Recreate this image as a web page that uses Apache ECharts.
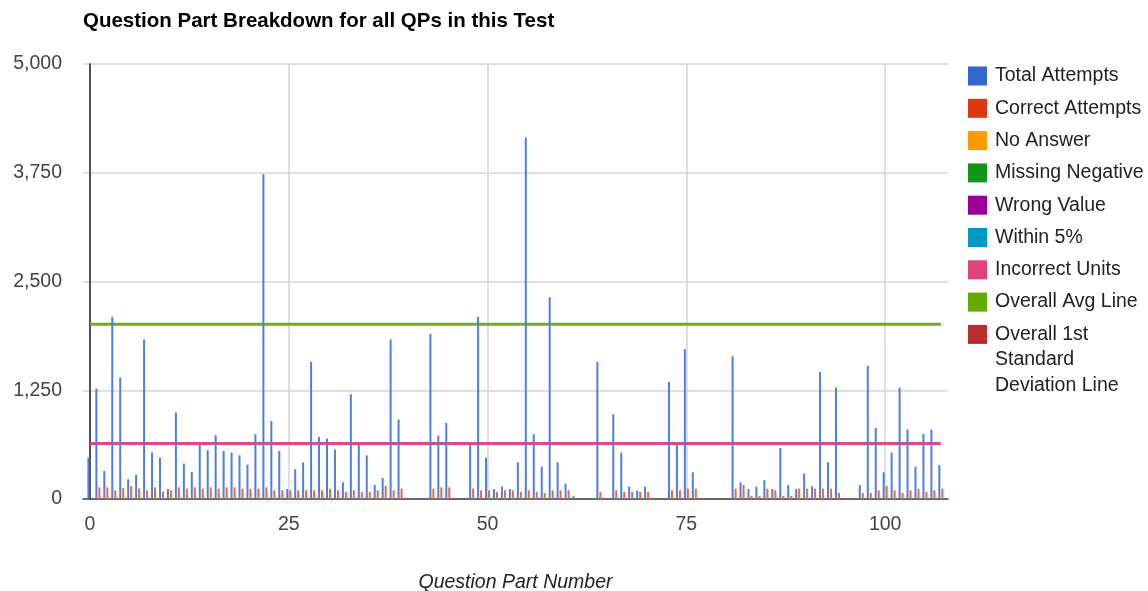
<!DOCTYPE html>
<html>
<head>
<meta charset="utf-8">
<script src="https://cdn.jsdelivr.net/npm/echarts@6.0.0/dist/echarts.min.js"></script>
<style>
  html, body { margin: 0; padding: 0; background: #fff; }
  #chart { width: 1148px; height: 591px; }
</style>
</head>
<body>
<div id="chart"></div>
<script>
// index in the arrays = question part number (0..107), null = no bar
const totalAttempts = [
  476, 1270, 322, 2093, 1396, 226, 280, 1833, 533, 476,
  115, 993, 407, 311, 625, 560, 733, 552, 533, 502,
  395, 744, 3734, 897, 552, 115, 342, 422, 1576, 713,
  694, 568, 192, 1204, 625, 502, 161, 242, 1833, 913,
  15, null, null, 1898, 729, 874, null, null, 625, 2093,
  476, 115, 142, 115, 422, 4156, 744, 372, 2320, 422,
  177, 31, null, null, 1576, null, 974, 533, 142, 97,
  142, null, null, 1346, 625, 1722, 307, null, null, null,
  null, 1641, 192, 115, 142, 215, 115, 587, 161, 115,
  292, 146, 1461, 422, 1281, null, null, 161, 1530, 817,
  307, 533, 1281, 798, 372, 748, 798, 391
];
const correctAttempts = [
  null, 134, 134, 100, 130, 150, 120, 100, 134, 85,
  100, 134, 119, 134, 119, 134, 119, 134, 134, 119,
  119, 119, 134, 100, 100, 100, 100, 100, 100, 100,
  119, 100, 81, 100, 81, 81, 100, 150, 100, 119,
  null, null, null, 119, 134, 134, null, null, 119, 100,
  100, 81, 100, 100, 81, 100, 81, 69, 100, 100,
  100, null, null, null, 81, null, 100, 81, 81, 81,
  81, null, null, 100, 100, 119, 119, null, null, null,
  null, 119, 161, 35, 35, 119, 100, 35, 35, 119,
  119, 119, 119, 119, 69, null, null, 69, 69, 100,
  150, 100, 69, 100, 119, 81, 100, 119
];
// series that have no visible marks in this test
const noAnswer = [];
const missingNegative = [];
const wrongValue = [];
const within5 = [];
const incorrectUnits = [];

const overallAvg = 2010;
const overallStdDev = 637;

const seriesNames = [
  "Total Attempts", "Correct Attempts", "No Answer", "Missing Negative",
  "Wrong Value", "Within 5%", "Incorrect Units", "Overall Avg Line",
  "Overall 1st Standard Deviation Line"
];
const legendColors = [
  "#3366cc", "#dc3912", "#ff9900", "#109618", "#990099",
  "#0099c6", "#dd4477", "#66aa00", "#b82e2e"
];
const xTicks = [0, 25, 50, 75, 100];
const yMax = 5000;
const yStep = 1250;

const FONT = "Liberation Sans, Arial, sans-serif";

function toPoints(arr) {
  const pts = [];
  arr.forEach((v, i) => { if (v !== null) pts.push([i, v]); });
  return pts;
}
const lastPart = totalAttempts.length - 1;

const chart = echarts.init(document.getElementById("chart"), null, { renderer: "canvas" });

const emptyLine = (name, data) => ({
  name: name, type: "line", data: data, symbol: "none"
});

chart.setOption({
  animation: false,
  backgroundColor: "#fff",
  title: {
    text: "Question Part Breakdown for all QPs in this Test",
    left: 83, top: 11, padding: 0,
    textStyle: { fontFamily: FONT, fontSize: 20.5, fontWeight: "bold", color: "#000" }
  },
  legend: {
    orient: "vertical",
    left: 968, top: 66, padding: 0,
    itemWidth: 19, itemHeight: 19, itemGap: 12.3,
    icon: "rect",
    data: seriesNames.map((n, i) => ({ name: n, itemStyle: { color: legendColors[i] } })),
    formatter: (name) => name === seriesNames[8] ? "Overall 1st" : name,
    textStyle: { fontFamily: FONT, fontSize: 19.5, color: "#222", padding: [0, 0, 0, 3] }
  },
  graphic: [
    { type: "text", left: 995, top: 350, style: { text: "Standard", font: "19.5px " + FONT, fill: "#222" } },
    { type: "text", left: 995, top: 376, style: { text: "Deviation Line", font: "19.5px " + FONT, fill: "#222" } }
  ],
  grid: { left: 83, right: 200, top: 64, bottom: 92, containLabel: false, outerBoundsMode: "none" },
  xAxis: {
    type: "value",
    min: -0.87, max: 107.9,
    name: "Question Part Number",
    nameLocation: "middle",
    nameGap: 74,
    nameTextStyle: { fontFamily: FONT, fontSize: 19.5, fontStyle: "italic", color: "#222" },
    axisLine: { show: true, onZero: false, lineStyle: { color: "#444", width: 1.5 } },
    axisTick: { show: false, customValues: xTicks },
    axisLabel: { customValues: xTicks, margin: 16, fontFamily: FONT, fontSize: 19.5, color: "#444" },
    splitLine: { show: true, lineStyle: { color: "#d4d4d4", width: 1.5 } }
  },
  yAxis: {
    type: "value",
    min: 0, max: yMax, interval: yStep,
    axisLine: { show: true, onZero: true, lineStyle: { color: "#222", width: 1.5 } },
    axisTick: { show: false },
    axisLabel: {
      margin: 21, fontFamily: FONT, fontSize: 19.5, color: "#444",
      formatter: (v) => v.toLocaleString("en-US")
    },
    splitLine: { show: true, lineStyle: { color: "#d4d4d4", width: 1.5 } }
  },
  series: [
    {
      name: seriesNames[0], type: "bar", data: toPoints(totalAttempts),
      barWidth: 2, barGap: "50%",
      itemStyle: { color: "#4f7fdb" }
    },
    {
      name: seriesNames[1], type: "bar", data: toPoints(correctAttempts),
      barWidth: 2, barGap: "50%",
      itemStyle: { color: "#f0683c" }
    },
    emptyLine(seriesNames[2], noAnswer),
    emptyLine(seriesNames[3], missingNegative),
    emptyLine(seriesNames[4], wrongValue),
    emptyLine(seriesNames[5], within5),
    emptyLine(seriesNames[6], incorrectUnits),
    {
      name: seriesNames[7], type: "line", symbol: "none", z: 1,
      data: [[0, overallAvg], [lastPart, overallAvg]],
      lineStyle: { color: "#6cae1c", width: 3 }
    },
    {
      name: seriesNames[8], type: "line", symbol: "none", z: 1,
      data: [[0, overallStdDev], [lastPart, overallStdDev]],
      lineStyle: { color: "#e04a7e", width: 3 }
    }
  ]
});
</script>
</body>
</html>
